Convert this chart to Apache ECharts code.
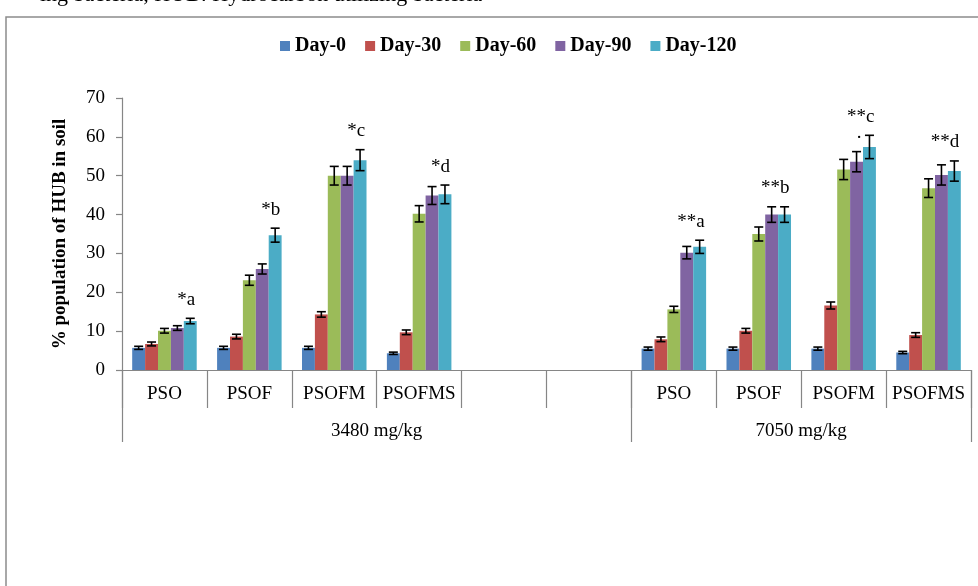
<!DOCTYPE html>
<html>
<head>
<meta charset="utf-8">
<script src="https://cdn.jsdelivr.net/npm/echarts@6/dist/echarts.min.js"></script>
<style>
  html, body { margin: 0; padding: 0; background: #ffffff; }
  #chart { width: 978px; height: 586px; }
</style>
</head>
<body>
<div id="chart"></div>
<script>
// Treatments along the x axis (two empty slots separate the dose groups)
const categories = ['PSO', 'PSOF', 'PSOFM', 'PSOFMS', '', '', 'PSO', 'PSOF', 'PSOFM', 'PSOFMS'];
// Dose groups and how many treatment slots each one spans
const doseGroups = ['3480 mg/kg', '7050 mg/kg'];
const doseGroupSpans = [6, 4];

const seriesNames = ['Day-0', 'Day-30', 'Day-60', 'Day-90', 'Day-120'];

// % population of HUB in soil (mean) per sampling day
const day0   = [5.7, 5.7, 5.7, 4.3, null, null, 5.5, 5.5, 5.5, 4.5];
const day30  = [6.7, 8.6, 14.3, 9.7, null, null, 7.9, 10.1, 16.6, 9.0];
const day60  = [10.1, 23.1, 50.0, 40.2, null, null, 15.6, 35.0, 51.6, 46.8];
const day90  = [10.8, 26.0, 50.0, 44.9, null, null, 30.2, 40.0, 53.6, 50.2];
const day120 = [12.6, 34.7, 54.0, 45.2, null, null, 31.7, 40.0, 57.4, 51.2];

// Standard errors
const day0Err   = [0.4, 0.4, 0.4, 0.3, null, null, 0.4, 0.4, 0.4, 0.3];
const day30Err  = [0.5, 0.6, 0.7, 0.6, null, null, 0.6, 0.6, 0.9, 0.6];
const day60Err  = [0.6, 1.3, 2.4, 2.1, null, null, 0.8, 1.8, 2.6, 2.4];
const day90Err  = [0.6, 1.3, 2.4, 2.3, null, null, 1.6, 2.0, 2.6, 2.6];
const day120Err = [0.7, 1.8, 2.7, 2.4, null, null, 1.7, 2.0, 3.0, 2.6];

// Significance marks
const day90Marks  = ['', '', '', '', '', '', '', '', '.', ''];
const day120Marks = ['*a', '*b', '*c', '*d', '', '', '**a', '**b', '**c', '**d'];

// Y axis scale
const yMin = 0, yMax = 70, yStep = 10;

const palette = ['#4F81BD', '#C0504D', '#9BBB59', '#8064A2', '#4BACC6'];
const serif = '"Liberation Serif", "Times New Roman", serif';
const CAT_GAP = 0.24;

const values = [day0, day30, day60, day90, day120];
const errors = [day0Err, day30Err, day60Err, day90Err, day120Err];
const marks = [null, null, null, day90Marks, day120Marks];
const N = values.length;

// Tick / label positions of the dose-group axis, derived from the spans
const groupEdges = [0];
doseGroupSpans.forEach(s => groupEdges.push(groupEdges[groupEdges.length - 1] + s));
const groupCenters = doseGroupSpans.map((s, i) => groupEdges[i] + s / 2);
// Boundaries between every treatment slot
const slotEdges = categories.map((_, i) => i).concat([categories.length]);

function errorSeries(idx) {
  const vals = values[idx], errs = errors[idx], mk = marks[idx];
  const data = vals.map((v, i) => [i, v == null ? null : v, errs[i] == null ? null : errs[i]]);
  return {
    type: 'custom',
    name: seriesNames[idx] + ' error',
    silent: true,
    z: 5,
    encode: { x: 0, y: 1 },
    data: data,
    renderItem: function (params, api) {
      const v = api.value(1);
      if (v == null || isNaN(v)) return null;
      const cat = api.value(0);
      const e = api.value(2);
      const band = api.size([1, 0])[0];
      const barW = band * (1 - CAT_GAP) / N;
      const cx = api.coord([cat, 0])[0] + (idx - (N - 1) / 2) * barW;
      const yTop = api.coord([cat, v + e])[1];
      const yBot = api.coord([cat, v - e])[1];
      const cap = 4.5;
      const st = { stroke: '#000', lineWidth: 1.6 };
      const children = [
        { type: 'line', shape: { x1: cx, y1: yTop, x2: cx, y2: yBot }, style: st },
        { type: 'line', shape: { x1: cx - cap, y1: yTop, x2: cx + cap, y2: yTop }, style: st },
        { type: 'line', shape: { x1: cx - cap, y1: yBot, x2: cx + cap, y2: yBot }, style: st }
      ];
      const m = mk ? mk[params.dataIndex] : '';
      if (m) {
        children.push({
          type: 'text',
          x: cx + 5,
          y: yTop - 9,
          style: {
            text: m,
            textAlign: 'right',
            textVerticalAlign: 'bottom',
            font: '19px ' + serif,
            fill: '#000'
          }
        });
      }
      return { type: 'group', children: children };
    }
  };
}

const barSeries = values.map((vals, i) => ({
  type: 'bar',
  name: seriesNames[i],
  data: vals.map(v => (v == null ? '-' : v)),
  itemStyle: { color: palette[i] },
  barGap: '0%',
  barCategoryGap: (CAT_GAP * 100) + '%',
  z: 2
}));

const chart = echarts.init(document.getElementById('chart'), null, { renderer: 'canvas' });

chart.setOption({
  animation: false,
  backgroundColor: '#ffffff',
  color: palette,
  graphic: [
    {
      type: 'rect',
      z: -10,
      shape: { x: 6, y: 17, width: 1000, height: 600 },
      style: { fill: 'none', stroke: '#8c8c8c', lineWidth: 1.5 }
    },
    {
      type: 'text',
      z: -10,
      x: 40,
      y: 6,
      style: {
        text: 'ing bacteria, HUB: Hydrocarbon utilizing bacteria',
        textVerticalAlign: 'bottom',
        font: '22px ' + serif,
        fill: '#000'
      }
    }
  ],
  legend: {
    data: seriesNames,
    left: 275,
    top: 31,
    icon: 'rect',
    itemWidth: 10,
    itemHeight: 10,
    itemGap: 19,
    textStyle: { fontFamily: serif, fontWeight: 'bold', fontSize: 20, color: '#000' }
  },
  grid: { left: 122, right: 7, top: 98, bottom: 216, containLabel: false },
  xAxis: [
    {
      type: 'category',
      data: categories,
      axisLine: { lineStyle: { color: '#868686', width: 1.2 } },
      axisTick: { show: false },
      axisLabel: { interval: 0, margin: 15, fontFamily: serif, fontSize: 19, color: '#000' }
    },
    {
      // slot dividers and dose-group brackets
      type: 'value',
      position: 'bottom',
      min: slotEdges[0],
      max: slotEdges[slotEdges.length - 1],
      splitLine: { show: false },
      axisLine: { show: false, onZero: false },
      axisTick: {
        show: true,
        length: 38,
        customValues: slotEdges,
        lineStyle: { color: '#868686', width: 1.2 }
      },
      axisLabel: { show: false }
    },
    {
      type: 'value',
      position: 'bottom',
      min: groupEdges[0],
      max: groupEdges[groupEdges.length - 1],
      splitLine: { show: false },
      axisLine: { show: false, onZero: false },
      axisTick: {
        show: true,
        length: 72,
        customValues: groupEdges,
        lineStyle: { color: '#868686', width: 1.2 }
      },
      axisLabel: {
        customValues: groupCenters,
        margin: 52,
        fontFamily: serif,
        fontSize: 19,
        color: '#000',
        formatter: function (v) {
          const k = groupCenters.findIndex(c => Math.abs(c - v) < 1e-6);
          return k >= 0 ? doseGroups[k] : '';
        }
      }
    }
  ],
  yAxis: {
    type: 'value',
    min: yMin,
    max: yMax,
    interval: yStep,
    name: '% population of HUB in soil',
    nameLocation: 'middle',
    nameGap: 52,
    nameRotate: 90,
    nameTextStyle: { fontFamily: serif, fontWeight: 'bold', fontSize: 19, color: '#000' },
    splitLine: { show: false },
    axisLine: { show: true, lineStyle: { color: '#868686', width: 1.2 } },
    axisTick: { show: true, length: 6, lineStyle: { color: '#868686', width: 1.2 } },
    axisLabel: { margin: 17, fontFamily: serif, fontSize: 19, color: '#000' }
  },
  series: barSeries.concat(values.map((_, i) => errorSeries(i)))
});
</script>
</body>
</html>
